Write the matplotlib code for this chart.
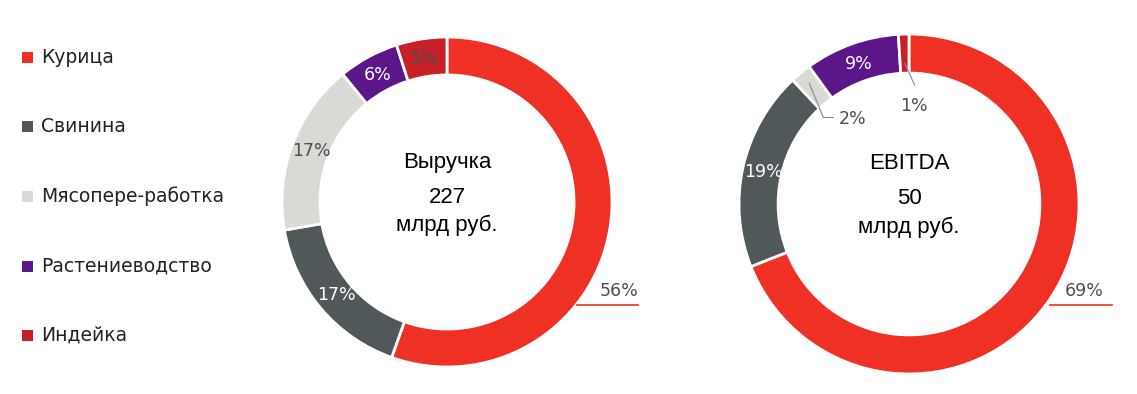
import matplotlib
matplotlib.use("Agg")
import matplotlib.pyplot as plt
import numpy as np

categories = ["Курица", "Свинина", "Мясопере-работка", "Растениеводство", "Индейка"]
revenue_share = [56, 17, 17, 6, 5]
ebitda_share = [69, 19, 2, 9, 1]
colors = ["#EE3124", "#515859", "#D9D9D5", "#5B1689", "#C72127"]
label_colors = ["#4d4d4d", "white", "#4d4d4d", "white", "#4d4d4d"]

W, H = 1137, 394
fig = plt.figure(figsize=(W / 100, H / 100), dpi=100)

pct_font = dict(family="DejaVu Sans", fontsize=12.5)
ctr_font = dict(family=["Liberation Sans", "DejaVu Sans"], fontsize=16, color="black")

# legend, drawn in pixel coordinates
leg = fig.add_axes([0, 0, 1, 1])
leg.set_xlim(0, W)
leg.set_ylim(H, 0)
leg.axis("off")
leg_y = [57, 126, 196, 266, 335]
for cat, col, y in zip(categories, colors, leg_y):
    leg.add_patch(plt.Rectangle((22, y - 5), 10.5, 10.5, color=col, lw=0))
    leg.text(41, y, cat, va="center", ha="left", fontsize=13.5,
             family="DejaVu Sans", color="#222222")


def donut(cx, cy, r, values, title, total, hide, leaders, big_lbl, big_line):
    ax = fig.add_axes([(cx - r) / W, (H - cy - r) / H, 2 * r / W, 2 * r / H])
    wedges, _ = ax.pie(values, colors=colors, startangle=90, counterclock=False,
                       radius=1, wedgeprops=dict(width=0.23, edgecolor="white", linewidth=2))
    ax.set_xlim(-1, 1)
    ax.set_ylim(-1, 1)
    ax.set_aspect("equal")
    ax.axis("off")
    for i, w in enumerate(wedges):
        if i in hide:
            continue
        a = np.deg2rad((w.theta1 + w.theta2) / 2)
        ax.text(0.875 * np.cos(a), 0.875 * np.sin(a), f"{values[i]}%", ha="center",
                va="center", color=label_colors[i], zorder=5, **pct_font)
    # small slices: leader line from the ring to a label inside the hole (offsets in px)
    for i, (r0, path, toff, ha) in leaders.items():
        w = wedges[i]
        a = np.deg2rad((w.theta1 + w.theta2) / 2)
        x0, y0 = r0 * np.cos(a), r0 * np.sin(a)
        xs = [x0] + [x0 + px / r for px, py in path]
        ys = [y0] + [y0 + py / r for px, py in path]
        ax.plot(xs, ys, color="#888888", lw=0.8, clip_on=False, zorder=4)
        ax.text(xs[-1] + toff[0] / r, ys[-1] + toff[1] / r, f"{values[i]}%", ha=ha,
                va="center", color="#4d4d4d", zorder=5, **pct_font)
    # main slice label outside with underline
    ax.text(big_lbl[0] / r, big_lbl[1] / r, f"{values[0]}%", ha="center", va="center",
            color="#4d4d4d", clip_on=False, **pct_font)
    ax.plot([big_line[0] / r, big_line[1] / r], [big_line[2] / r] * 2, color=colors[0],
            lw=1.2, clip_on=False)
    ax.text(0, 0.24, title, ha="center", va="center", **ctr_font)
    ax.text(0, 0.03, total, ha="center", va="center", **ctr_font)
    ax.text(0, -0.14, "млрд руб.", ha="center", va="center", **ctr_font)


donut(447, 202, 165, revenue_share, "Выручка", "227", hide={0}, leaders={},
      big_lbl=(172, -89), big_line=(130, 191, -103))
donut(909, 204, 170, ebitda_share, "EBITDA", "50", hide={0, 2, 4},
      leaders={2: (0.92, [(14, -34), (24, -34)], (5, -2), "left"),
               4: (0.83, [(10, -22)], (-1, -21), "center")},
      big_lbl=(175, -87), big_line=(141, 203, -101))

fig.savefig("out.png", dpi=100)
